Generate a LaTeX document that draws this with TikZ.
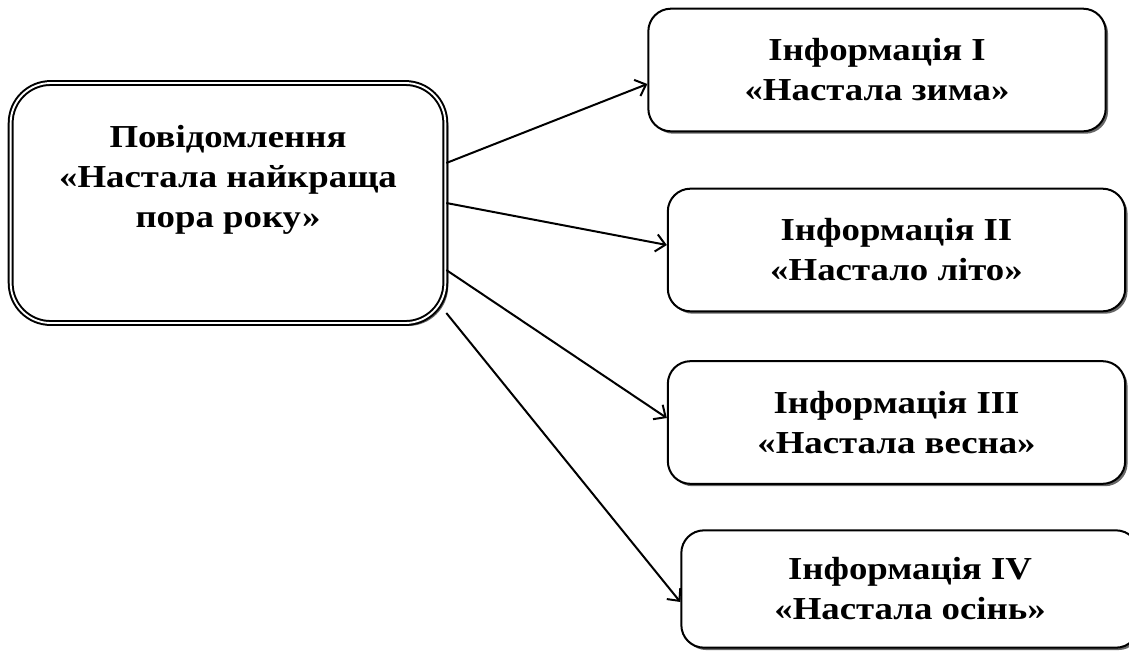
\documentclass[tikz,border=0pt]{standalone}
\usepackage{fontspec}
\setmainfont{Liberation Serif}[FakeStretch=1.15]
\usetikzlibrary{arrows.meta, shadows}

\tikzset{
	boxtext/.style={align=center, font=\bfseries\fontsize{24}{30}\selectfont},
	infobox/.style={boxtext, draw, line width=1.5pt, rounded corners=17pt, fill=white,
		minimum width=343pt, minimum height=92pt,
		drop shadow={shadow xshift=1.8pt, shadow yshift=-1.8pt, fill=black, opacity=0.6}},
	msgbox/.style={boxtext, draw, double, double distance=1.4pt, line width=1.5pt,
		rounded corners=30pt, fill=white, minimum width=326pt, minimum height=180pt,
		drop shadow={shadow xshift=2.2pt, shadow yshift=-2.2pt, fill=black, opacity=0.6}},
	arr/.style={-{Straight Barb[length=7pt,width=13pt]}, line width=1.5pt}
}

\begin{document}
\begin{tikzpicture}[x=0.75pt, y=-0.75pt]
			\useasboundingbox (0,0) rectangle (1129,651);
			
			\node[msgbox] (msg) at (228,203) {Повідомлення\\«Настала найкраща\\пора року»\\[10pt]\mbox{}};
			\node[infobox] (inf1) at (877,70) {Інформація I\\«Настала зима»};
			\node[infobox] (inf2) at (896.5,250) {Інформація II\\«Настало літо»};
			\node[infobox] (inf3) at (896.5,422.5) {Інформація III\\«Настала весна»};
			\node[infobox, minimum height=88pt] (inf4) at (910,589) {Інформація IV\\«Настала осінь»};
			
			\draw[arr] (msg.east |- 0,163)--(inf1.west |- 0,84);
			\draw[arr] (msg.east |- 0,203)--(inf2.west |- 0,245);
			\draw[arr] (msg.east |- 0,270)--(inf3.west |- 0,418);
			\draw[arr] (msg.east |- 0,313)--(inf4.west |- 0,602);
			\end{tikzpicture}
\end{document}
